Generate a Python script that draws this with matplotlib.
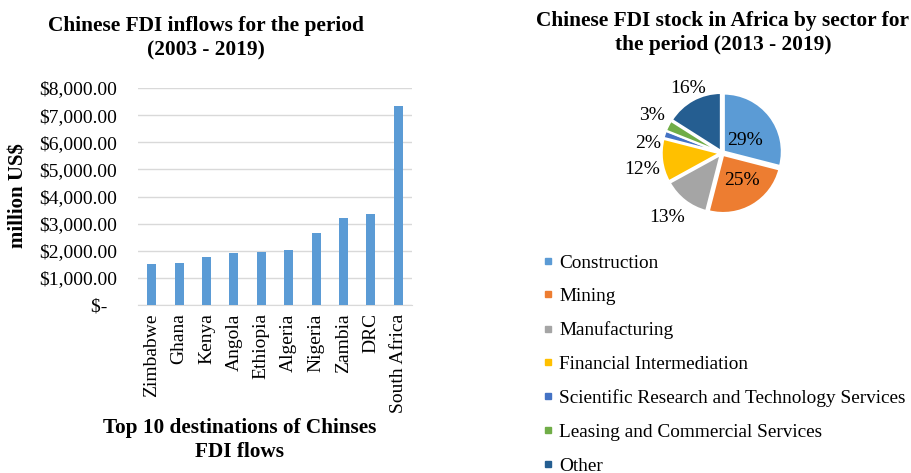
import numpy as np
import matplotlib
matplotlib.use("Agg")
import matplotlib.pyplot as plt
from matplotlib.lines import Line2D
from matplotlib.ticker import FuncFormatter

plt.rcParams['font.family'] = ['Liberation Serif', 'DejaVu Serif']

# Top 10 destinations of Chinese FDI flows (million US$)
countries = ["Zimbabwe", "Ghana", "Kenya", "Angola", "Ethiopia", "Algeria",
             "Nigeria", "Zambia", "DRC", "South Africa"]
inflows = [1500, 1540, 1780, 1910, 1940, 2040, 2660, 3220, 3360, 7340]

# FDI stock by sector (%)
sectors = ["Construction", "Mining", "Manufacturing", "Financial Intermediation",
           "Scientific Research and Technology Services",
           "Leasing and Commercial Services", "Other"]
shares = [29, 25, 13, 12, 2, 3, 16]
sector_colors = ["#5B9BD5", "#ED7D31", "#A5A5A5", "#FFC000", "#4472C4",
                 "#70AD47", "#255E91"]

W, H = 912, 473
fig = plt.figure(figsize=(W / 100, H / 100), dpi=100)


def box(x0, y0, x1, y1):
    """Pixel box (top-left origin) to figure fraction rect."""
    return [x0 / W, 1 - y1 / H, (x1 - x0) / W, (y1 - y0) / H]


# ---- Bar chart ----
ax = fig.add_axes(box(138, 88, 412, 305))
x = np.arange(len(countries))
ax.bar(x, inflows, width=0.33, color="#5B9BD5", zorder=3)
ax.set_ylim(0, 8000)
ax.set_xlim(-0.5, len(countries) - 0.5)
ax.set_yticks(np.arange(0, 8001, 1000))
ax.yaxis.set_major_formatter(FuncFormatter(
    lambda v, p: "$-  " if v == 0 else f"${v:,.2f}"))
ax.grid(axis="y", color="#D9D9D9", linewidth=1, zorder=0)
for s in ["top", "right", "left"]:
    ax.spines[s].set_visible(False)
ax.spines["bottom"].set_color("#D9D9D9")
ax.tick_params(axis="y", length=0, labelsize=14, pad=15)
ax.set_xticks(x)
ax.set_xticklabels(countries, rotation=90, fontsize=14)
ax.tick_params(axis="x", length=0, pad=6)
fig.text(19 / W, 1 - 196 / H, "million US$", rotation=90, ha="center",
         va="center", fontsize=15, fontweight="bold")
fig.text(240 / W, 1 - 440 / H, "Top 10 destinations of Chinses\nFDI flows",
         ha="center", va="center", fontsize=15.3, fontweight="bold",
         linespacing=1.3)
fig.text(206 / W, 1 - 38 / H, "Chinese FDI inflows for the period\n(2003 - 2019)",
         ha="center", va="center", fontsize=15.4, fontweight="bold",
         linespacing=1.32)

# ---- Pie chart ----
cx, cy, half = 722, 153, 100
pax = fig.add_axes(box(cx - half, cy - half, cx + half, cy + half))
L = half / 58
wedges, _ = pax.pie(shares, colors=sector_colors, startangle=90,
                    counterclock=False, explode=[0.04] * len(shares),
                    wedgeprops=dict(edgecolor="white", linewidth=1.5))
pax.set_xlim(-L, L)
pax.set_ylim(-L, L)
pax.set_aspect("equal")
pax.axis("off")

# data-label anchor points, in units of the pie radius
label_xy = [(0.40, 0.21), (0.34, -0.48), (-0.95, -1.12), (-1.38, -0.28),
            (-1.28, 0.17), (-1.21, 0.64), (-0.59, 1.12)]
for (lx, ly), v in zip(label_xy, shares):
    pax.text(lx, ly, f"{v}%", ha="center", va="center", fontsize=14)

fig.text(723 / W, 1 - 33 / H,
         "Chinese FDI stock in Africa by sector for\nthe period (2013 - 2019)",
         ha="center", va="center", fontsize=15.4, fontweight="bold",
         linespacing=1.32)

handles = [Line2D([0], [0], marker="s", linestyle="none", markersize=5,
                  markerfacecolor=c, markeredgecolor=c) for c in sector_colors]
fig.legend(handles, sectors, loc="upper left",
           bbox_to_anchor=(542 / W, 1 - 254 / H), frameon=False,
           fontsize=13.9, handlelength=0.6, handletextpad=0.3,
           labelspacing=0.84, borderaxespad=0, borderpad=0)

fig.savefig("out.png", dpi=100)
